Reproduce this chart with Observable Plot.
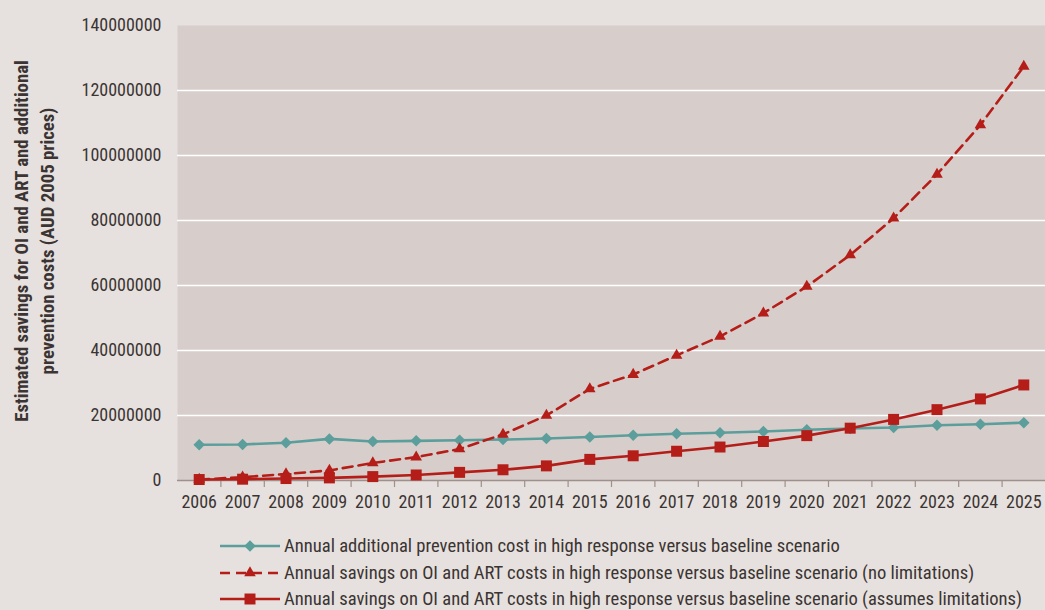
<!DOCTYPE html>
<html><head><meta charset="utf-8">
<script src="https://cdn.jsdelivr.net/npm/d3@7"></script>
<script src="https://cdn.jsdelivr.net/npm/@observablehq/plot@0.6"></script>
<style>
html,body{margin:0;padding:0;background:#e6e1de;}
body{width:1045px;height:610px;overflow:hidden;font-family:Roboto,sans-serif;font-stretch:75%;color:#3b3432;}
svg text{font-stretch:75%;}
#legend{margin-left:220px;margin-top:13px;}
.row{display:flex;align-items:center;height:26.5px;font-size:18.6px;line-height:20px;white-space:nowrap;}
.row svg{display:block;margin-right:2px;}
</style></head><body>
<div id="chart"></div>
<div id="legend"></div>
<script>
const years = [2006,2007,2008,2009,2010,2011,2012,2013,2014,2015,2016,2017,2018,2019,2020,2021,2022,2023,2024,2025];
const prevention = [11.0,11.1,11.6,12.8,12.0,12.2,12.4,12.6,12.9,13.4,13.9,14.4,14.7,15.1,15.6,16.0,16.3,17.0,17.3,17.8].map(v=>v*1e6);
const savingsNoLimit = [0.3,1.0,2.0,3.1,5.4,7.2,9.7,14.2,20.0,28.2,32.6,38.5,44.3,51.5,59.7,69.4,80.7,94.2,109.4,127.4].map(v=>v*1e6);
const savingsLimit = [0.3,0.4,0.6,0.8,1.2,1.7,2.5,3.3,4.5,6.5,7.6,9.0,10.3,12.0,13.8,16.1,18.8,21.8,25.1,29.4].map(v=>v*1e6);
const yTicks = [0,20000000,40000000,60000000,80000000,100000000,120000000,140000000];
const seriesNames = [
  "Annual additional prevention cost in high response versus baseline scenario",
  "Annual savings on OI and ART costs in high response versus baseline scenario (no limitations)",
  "Annual savings on OI and ART costs in high response versus baseline scenario (assumes limitations)"
];
const yLabel = "Estimated savings for OI and ART and additional\nprevention costs (AUD 2005 prices)";

const colors = ["#5b9e9b","#b51d19","#b51d19"];
const symbols = ["diamond2","triangle","square"];
const dashes = [null,"10,6",null];
const radii = [5.2,4.3,6.2];
const allSeries = [prevention, savingsNoLimit, savingsLimit];
const rows = allSeries.map((vals,i)=>years.map((y,j)=>({year:y, value:vals[j], series:seriesNames[i]})));
const boundaries = years.slice(1).map(y=>y-0.5);
const font = 'Roboto, sans-serif';

const marks = [
  Plot.frame({fill:"#d7cecb", stroke:"none"}),
  Plot.gridY(yTicks.filter(d=>d>0 && d<140000000), {stroke:"#ffffff", strokeOpacity:1, strokeWidth:1.5}),
  Plot.ruleY([0], {stroke:"#9e908b", strokeWidth:1.5}),
  Plot.axisY(yTicks, {tickSize:0, tickPadding:16, tickFormat:d3.format("d"), fontSize:18, label:null, fill:"#3b3432"}),
  Plot.axisX(boundaries, {tickSize:7, tickFormat:()=>"", stroke:"#9e908b", strokeWidth:1.2, label:null}),
  Plot.axisX(years, {tickSize:0, tickPadding:15, tickFormat:d=>String(d), fontSize:18, label:null, fill:"#3b3432"})
];
rows.forEach((r,i)=>{
  marks.push(Plot.line(r, {x:"year", y:"value", stroke:colors[i], strokeWidth:2.6, strokeDasharray:dashes[i]}));
  marks.push(Plot.dot(r, {x:"year", y:"value", symbol:()=>symbols[i], fill:colors[i], stroke:"none", r:radii[i]}));
});
marks.push(Plot.text([yLabel], {frameAnchor:"left", textAnchor:"middle", dx:-145, dy:-12, rotate:-90, lineHeight:1.38, fontWeight:"bold", fontSize:18.8, fill:"#3b3432"}));

const chart = Plot.plot({
  width:1045, height:520, marginLeft:177, marginRight:0, marginTop:25, marginBottom:40,
  style:{background:"transparent", fontFamily:font, fontSize:"18px", color:"#3b3432", overflow:"visible"},
  x:{domain:[2005.5,2025.5]},
  y:{domain:[0,140000000]},
  marks
});
document.getElementById("chart").appendChild(chart);

const legend = d3.select("#legend");
seriesNames.forEach((name,i)=>{
  const row = legend.append("div").attr("class","row");
  const svg = row.append("svg").attr("width",62).attr("height",20);
  svg.append("line").attr("x1",0).attr("x2",60).attr("y1",10).attr("y2",10)
    .attr("stroke",colors[i]).attr("stroke-width",2.6).attr("stroke-dasharray",dashes[i]);
  const symType = {diamond2:d3.symbolDiamond2, triangle:d3.symbolTriangle, square:d3.symbolSquare}[symbols[i]];
  svg.append("path").attr("transform","translate(30,10)")
    .attr("d", d3.symbol(symType, Math.PI*radii[i]*radii[i])())
    .attr("fill",colors[i]);
  row.append("span").text(name);
});
</script>
</body></html>
